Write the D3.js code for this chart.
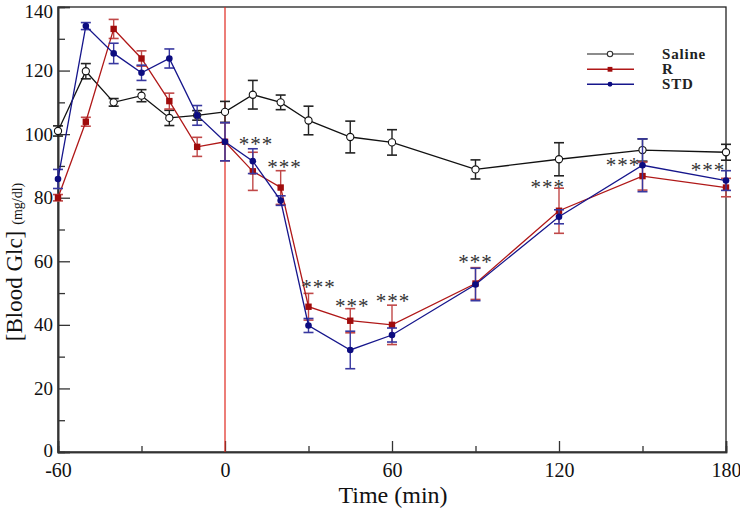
<!DOCTYPE html>
<html>
<head>
<meta charset="utf-8">
<script src="https://cdn.jsdelivr.net/npm/d3@7"></script>
<style>
  html, body { margin: 0; padding: 0; background: #fff; }
  svg { display: block; }
</style>
</head>
<body>
<svg id="chart" width="740" height="509"></svg>
<script>
// ---- data ----
const times = [-60, -50, -40, -30, -20, -10, 0, 10, 20, 30, 45, 60, 90, 120, 150, 180];
const saline    = [101, 119.8, 110, 112.1, 105.1, 105.9, 107, 112.4, 110, 104.3, 99.1, 97.4, 88.9, 92.1, 95, 94.3];
const salineErr = [1.6, 2.4, 1.2, 1.9, 2.4, 1.5, 3.3, 4.5, 2.3, 4.5, 5.0, 4.0, 3.0, 5.2, 3.5, 2.5];
const rVals     = [80, 103.9, 133.1, 123.8, 110.4, 96, 97.6, 88.3, 83.2, 45.7, 41.3, 40, 53, 75.9, 86.8, 83.2];
const rErr      = [1.0, 1.4, 3.0, 2.4, 2.5, 3.0, 6.0, 6.0, 5.3, 4.2, 3.8, 6.2, 5.0, 7.1, 4.4, 2.9];
const stdVals   = [85.9, 134, 125.4, 119.3, 123.8, 105.9, 97.6, 91.5, 79.1, 39.8, 32.1, 36.8, 52.7, 74, 90.2, 85.4];
const stdErr    = [3.0, 1.1, 3.2, 2.4, 3.0, 3.1, 6.0, 3.9, 1.5, 2.2, 5.9, 2.2, 5.1, 2.2, 8.3, 3.1];
const seriesNames = ["Saline", "R", "STD"];
// significance markers: anchor time and value (data units)
const starTimes  = [11.1, 21.4, 33.6, 45.7, 60.4, 90, 116, 143, 173.5];
const starValues = [98.1, 90.9, 53.2, 47.3, 48.8, 61.1, 84.7, 91.5, 90.1];
const xMajorTicks = [-60, 0, 60, 120, 180];
const xMinorTicks = [-30, 30, 90, 150];
const yMajorTicks = [0, 20, 40, 60, 80, 100, 120, 140];
const yMinorTicks = [10, 30, 50, 70, 90, 110, 130];
const injectionTime = 0;

// ---- layout ----
const svg = d3.select("#chart");
const L = 58, R = 726, T = 7, B = 452;
const x = d3.scaleLinear().domain([-60, 180]).range([L, R]);
const y = d3.scaleLinear().domain([0, 140]).range([B, T]);
const serif = "'Liberation Serif', 'Times New Roman', serif";

// frame
svg.append("rect").attr("x", L).attr("y", T).attr("width", R - L).attr("height", B - T)
  .attr("fill", "none").attr("stroke", "#222").attr("stroke-width", 1.3);

// axes
svg.append("g").attr("transform", `translate(0,${B})`)
  .call(d3.axisBottom(x).tickValues(xMajorTicks).tickSize(-11).tickPadding(11).tickFormat(d => String(d)));
svg.append("g").attr("transform", `translate(0,${B})`)
  .call(d3.axisBottom(x).tickValues(xMinorTicks).tickSize(-6).tickFormat(""));
const yAxisG = svg.append("g").attr("transform", `translate(${L},0)`)
  .call(d3.axisLeft(y).tickValues(yMajorTicks).tickSize(-12).tickPadding(5).tickFormat(d => String(d)));
svg.append("g").attr("transform", `translate(${L},0)`)
  .call(d3.axisLeft(y).tickValues(yMinorTicks).tickSize(-7).tickFormat(""));
svg.selectAll(".domain").attr("stroke", "#333").attr("stroke-width", 1.6);
svg.selectAll(".tick line").attr("stroke", "#333").attr("stroke-width", 1.3);
svg.selectAll(".tick text").attr("font-family", serif).attr("font-size", 20).attr("fill", "#111");
yAxisG.selectAll(".tick text").attr("font-size", 19)
  .attr("dy", d => d === 140 ? "0.56em" : d === 0 ? "0.22em" : "0.32em");

// injection line
svg.append("line").attr("x1", x(injectionTime)).attr("x2", x(injectionTime))
  .attr("y1", T).attr("y2", B).attr("stroke", "#e0281e").attr("stroke-width", 1.2);

// axis titles
svg.append("text").attr("x", 393).attr("y", 503).attr("text-anchor", "middle")
  .attr("font-family", serif).attr("font-size", 24).attr("fill", "#111").text("Time (min)");
const yt = svg.append("text").attr("transform", "translate(22,262) rotate(-90)")
  .attr("text-anchor", "middle").attr("font-family", serif).attr("fill", "#111");
yt.append("tspan").attr("font-size", 23).text("[Blood Glc]");
yt.append("tspan").attr("font-size", 14).attr("dx", 6).text("(mg/dl)");

// series
const series = [
  { name: seriesNames[0], vals: saline, err: salineErr, line: "#111", errc: "#222", marker: "openCircle" },
  { name: seriesNames[1], vals: rVals, err: rErr, line: "#b01818", errc: "#c04848", marker: "square" },
  { name: seriesNames[2], vals: stdVals, err: stdErr, line: "#16168c", errc: "#3838a0", marker: "dot" }
];
const lineGen = d3.line().x(d => x(d.t)).y(d => y(d.v));

function drawMarker(g, px, py, s, mk, k) {
  if (mk === "openCircle") {
    g.append("circle").attr("cx", px).attr("cy", py).attr("r", 3.6 * k)
      .attr("fill", "#fff").attr("stroke", s.line).attr("stroke-width", 1.1);
  } else if (mk === "square") {
    const h = 3.2 * k;
    g.append("rect").attr("x", px - h).attr("y", py - h).attr("width", 2 * h).attr("height", 2 * h)
      .attr("fill", "#a00c0c");
  } else {
    g.append("circle").attr("cx", px).attr("cy", py).attr("r", 3.3 * k).attr("fill", "#0c0c80");
  }
}

series.forEach(s => {
  const pts = times.map((t, i) => ({ t, v: s.vals[i], e: s.err[i] }));
  const g = svg.append("g");
  pts.forEach(p => {
    const cx = x(p.t), y1 = y(p.v + p.e), y2 = y(p.v - p.e);
    g.append("line").attr("x1", cx).attr("x2", cx).attr("y1", y1).attr("y2", y2)
      .attr("stroke", s.errc).attr("stroke-width", 1.4);
    [y1, y2].forEach(yy => g.append("line").attr("x1", cx - 5).attr("x2", cx + 5)
      .attr("y1", yy).attr("y2", yy).attr("stroke", s.errc).attr("stroke-width", 1.6));
  });
  g.append("path").datum(pts).attr("d", lineGen).attr("fill", "none")
    .attr("stroke", s.line).attr("stroke-width", 1.3);
  pts.forEach(p => drawMarker(g, x(p.t), y(p.v), s, s.marker, 1));
});

// significance stars
svg.append("g").selectAll("text").data(starTimes).join("text")
  .attr("x", (d) => x(d)).attr("y", (d, i) => y(starValues[i]) + 11)
  .attr("text-anchor", "middle").attr("font-family", serif).attr("font-size", 21)
  .attr("letter-spacing", 1).attr("fill", "#333").text("***");

// legend
const lg = svg.append("g");
const legendY = [54, 69.3, 84.3];
series.forEach((s, i) => {
  lg.append("line").attr("x1", 587).attr("x2", 634).attr("y1", legendY[i]).attr("y2", legendY[i])
    .attr("stroke", i === 0 ? "#666" : s.line).attr("stroke-width", 1.4);
  drawMarker(lg, 610, legendY[i], i === 0 ? { line: "#333" } : s, s.marker, 0.75);
  lg.append("text").attr("x", 662).attr("y", legendY[i] + 5).attr("font-family", serif)
    .attr("font-weight", "bold").attr("font-size", 15).attr("letter-spacing", 0.8)
    .attr("fill", "#222").text(s.name);
});
</script>
</body>
</html>
